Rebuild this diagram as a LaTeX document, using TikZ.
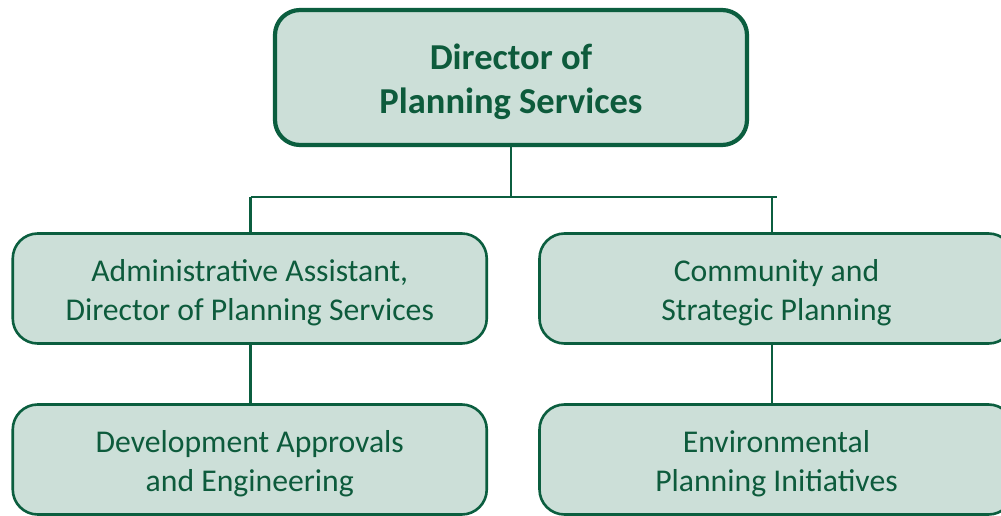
\documentclass[tikz,border=0pt]{standalone}
\usepackage{fontspec}
\setmainfont{Carlito}
\definecolor{boxfill}{HTML}{CCDFD8}
\definecolor{boxline}{HTML}{0B5E3F}
\definecolor{boxtext}{HTML}{0D5B3C}
\begin{document}
\begin{tikzpicture}[x=1pt,y=-1pt,
  unitbox/.style={draw=boxline, fill=boxfill, rounded corners=25pt,
    line width=2.6pt, minimum width=474pt, minimum height=110pt,
    inner sep=0pt},
  headbox/.style={unitbox, line width=4.2pt, minimum width=472pt,
    minimum height=135pt},
  unittext/.style={yshift=-4.5pt, inner sep=0pt, align=center, text=boxtext,
    font=\fontsize{31.7}{39}\selectfont},
  headtext/.style={unittext, font=\fontsize{36.5}{44}\selectfont\bfseries},
  conn/.style={draw=boxline, line width=2.6pt}]
\useasboundingbox (0,0) rectangle (1001,516);
\clip (0,0) rectangle (1001,516);
\fill[white] (0,0) rectangle (1001,516);

% top of the hierarchy
\node[headbox, label={[headtext]center:Director of\\Planning Services}] (head) at (511,77.5) {};

% second level
\node[unitbox, label={[unittext]center:Administrative Assistant,\\Director of Planning Services}] (admin) at (249.75,288.5) {};
\node[unitbox, label={[unittext]center:Community and\\Strategic Planning}] (csp) at (776.5,288.5) {};

% third level
\node[unitbox, label={[unittext]center:Development Approvals\\and Engineering}] (dev) at (249.75,459.5) {};
\node[unitbox, label={[unittext]center:Environmental\\Planning Initiatives}] (env) at (776.5,459.5) {};

% bus between the director and the second level
\coordinate (busL) at (250.5,197);
\coordinate (busR) at (777,197);
\coordinate (dropR) at (772,197);
\draw[conn] (head.south) -- (head.south |- busL);
\draw[conn] (busL) -- (busR);
\draw[conn] (busL) -- (busL |- admin.north);
\draw[conn] (dropR) -- (dropR |- csp.north);

% links down to the third level
\draw[conn] (busL |- admin.south) -- (busL |- dev.north);
\draw[conn] (dropR |- csp.south) -- (dropR |- env.north);
\end{tikzpicture}
\end{document}
